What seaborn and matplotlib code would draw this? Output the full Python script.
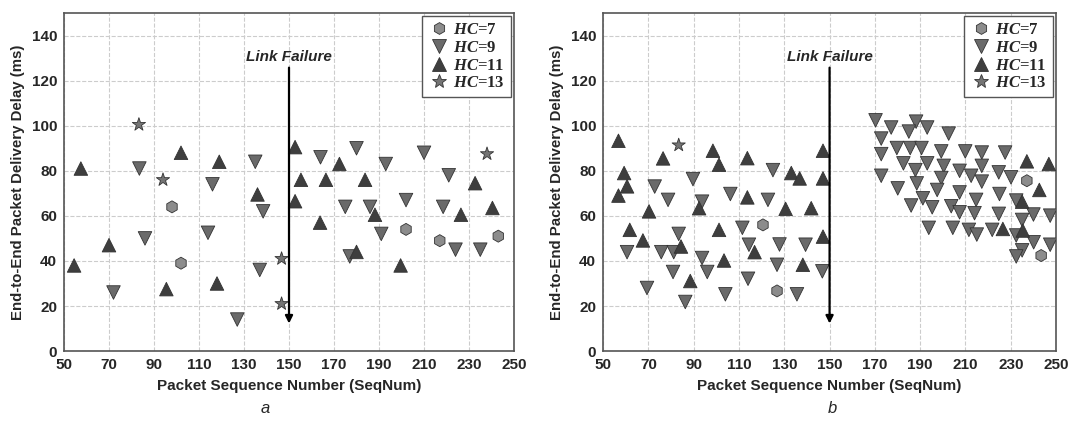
import numpy as np
import pandas as pd
import matplotlib.pyplot as plt
import seaborn as sns
from matplotlib.lines import Line2D

sns.set_theme(style="whitegrid")
plt.rcParams["font.family"] = ["Liberation Sans", "DejaVu Sans"]
plt.rcParams["mathtext.fontset"] = "custom"
plt.rcParams["mathtext.rm"] = "Liberation Serif:bold"
plt.rcParams["mathtext.it"] = "Liberation Serif:italic:bold"

# ---- panel a ----
hc7_a_seq = [98, 102, 202, 217, 243]
hc7_a_delay = [64, 39, 54, 49, 51]
hc9_a_seq = [72, 83.5, 86, 114, 116, 127, 135, 138.5, 137, 164, 180, 193, 175, 186,
             191, 177, 202, 210, 221, 218.5, 224, 235]
hc9_a_delay = [26, 81, 50, 52.5, 74, 14, 84, 62, 36, 86, 90, 83, 64, 64,
               52, 42, 67, 88, 78, 64, 45, 45]
hc11_a_seq = [54.5, 57.5, 70, 95.5, 102, 119, 118, 136, 152.7, 152.7, 155.3, 163.8,
              166.4, 172.4, 183.8, 180, 188.2, 199.6, 232.7, 226.4, 240.4]
hc11_a_delay = [38, 81, 47, 27.5, 88, 84, 30, 69.5, 90.5, 66.5, 76, 57,
                76, 83, 76, 44, 60.5, 38, 74.5, 60.5, 63.5]
hc13_a_seq = [83.3, 94, 146.7, 146.7, 238]
hc13_a_delay = [100.5, 76, 41, 21, 87.5]

# ---- panel b ----
hc7_b_seq = [120.6, 126.8, 237.1, 243.4]
hc7_b_delay = [56, 26.7, 75.6, 42.4]
hc9_b_seq = [60.6, 69.4, 72.8, 78.7, 75.7, 81.2, 80.9, 83.4, 86.3, 89.7, 93.7, 93.7,
             96, 104, 106.2, 111.5, 114.4, 114, 125, 122.8, 127.9, 126.8, 135.6, 139.4,
             146.8,
             170.3, 177.2, 188.2, 193.1, 185, 202.6, 172.8, 179.7, 185.6, 190.6, 172.8,
             199.3, 209.9, 217.2, 227.5, 182.6, 193.1, 200.4, 217.2, 187.9, 207.4,
             172.8, 212.5, 224.7, 230.1, 199.3, 217.2, 188.5, 180.1, 197.5, 207.4,
             225, 191.2, 214.7, 232.4, 186, 195.3, 203.7, 207.4, 214, 224.7, 240,
             247.4, 235, 193.8, 204.4, 211.5, 215, 221.8, 232.4, 240.1, 247.4, 235,
             232.4]
hc9_b_delay = [43.9, 28, 73, 67.1, 43.9, 43.9, 35.1, 52, 21.8, 76.3, 66.3, 41.3,
               35.1, 25.2, 69.7, 54.7, 47.2, 32.1, 80.3, 67.1, 47.3, 38.3, 25.2, 47.2,
               35.4,
               102.4, 99.2, 101.8, 99.2, 97.4, 96.5, 94.3, 90.1, 90.1, 90.1, 87.4,
               88.6, 88.6, 88.1, 88.1, 83.3, 83.3, 82.2, 82.2, 80.3, 80,
               77.8, 77.8, 79.3, 77.1, 76.8, 75.2, 74.4, 72.2, 71.5, 70.4,
               69.7, 67.8, 67.1, 66.8, 64.6, 63.8, 64.3, 61.6, 61.2, 60.9, 60.6,
               60.1, 58.2, 54.7, 54.7, 53.8, 51.7, 53.8, 51.3, 48.3, 47.2, 44.7,
               42]
hc11_b_seq = [56.8, 59.3, 60.6, 56.8, 61.8, 67.6, 70.3, 76.5, 84.4, 88.5, 92.4, 98.5,
              101.2, 101.2, 103.4, 113.7, 113.7, 116.9, 130.6, 133.1, 136.8, 138.2,
              141.9, 147.1, 147.1, 147.1, 237.1, 246.8, 242.6, 235, 226.5, 235.3]
hc11_b_delay = [93.3, 79, 73.1, 69, 53.8, 49.1, 62, 85.5, 46.4, 31.1, 63.4, 88.9,
                82.7, 53.8, 40.2, 85.6, 68.2, 43.9, 63.1, 79, 76.6, 38.3,
                63.4, 88.9, 76.6, 50.8, 84.2, 83, 71.5, 66.3, 54.2, 53.5]
hc13_b_seq = [83.4]
hc13_b_delay = [91.4]

hc_levels = ["7", "9", "11", "13"]
x_ticks = list(range(50, 251, 20))
y_ticks = list(range(0, 141, 20))

markers = {"7": "h", "9": "v", "11": "^", "13": "*"}
sizes = {"7": 75, "9": 95, "11": 95, "13": 100}
palette = {"7": "#8c8c8c", "9": "#6a6a6a", "11": "#3e3e3e", "13": "#747474"}


def make_frame(groups):
    rows = []
    for hc, seq, delay in groups:
        for s, d in zip(seq, delay):
            rows.append({"SeqNum": s, "Delay": d, "HC": hc})
    return pd.DataFrame(rows)


df_a = make_frame([("7", hc7_a_seq, hc7_a_delay), ("9", hc9_a_seq, hc9_a_delay),
                   ("11", hc11_a_seq, hc11_a_delay), ("13", hc13_a_seq, hc13_a_delay)])
df_b = make_frame([("7", hc7_b_seq, hc7_b_delay), ("9", hc9_b_seq, hc9_b_delay),
                   ("11", hc11_b_seq, hc11_b_delay), ("13", hc13_b_seq, hc13_b_delay)])

fig = plt.figure(figsize=(10.7, 4.34), dpi=100)
ax_a = fig.add_axes([0.0598, 0.191, 0.4206, 0.779])
ax_b = fig.add_axes([0.5636, 0.191, 0.4234, 0.779])

for ax, df, tag in [(ax_a, df_a, "a"), (ax_b, df_b, "b")]:
    sns.scatterplot(data=df, x="SeqNum", y="Delay", hue="HC", style="HC", size="HC",
                    hue_order=hc_levels, style_order=hc_levels, size_order=hc_levels,
                    palette=palette, markers=markers, sizes=sizes,
                    edgecolor="#333333", linewidth=0.6, legend=False, ax=ax, zorder=3)
    ax.set_xlim(50, 250)
    ax.set_ylim(0, 150)
    ax.set_xticks(x_ticks)
    ax.set_yticks(y_ticks)
    ax.tick_params(axis="both", labelsize=11, length=3, width=0.8, color="#555555",
                   pad=2, direction="out")
    for lab in ax.get_xticklabels() + ax.get_yticklabels():
        lab.set_fontweight("bold")
    ax.grid(True, linestyle="--", color="#cccccc", linewidth=0.8)
    ax.set_facecolor("white")
    for sp in ax.spines.values():
        sp.set_color("#555555")
        sp.set_linewidth(1.2)
    ax.set_xlabel("Packet Sequence Number (SeqNum)", fontsize=11, fontweight="bold",
                  labelpad=5)
    ax.set_ylabel("End-to-End Packet Delivery Delay (ms)", fontsize=10.8,
                  fontweight="bold", labelpad=5)

    ax.annotate("", xy=(150, 11), xytext=(150, 127),
                arrowprops=dict(arrowstyle="-|>", color="black", lw=1.6,
                                mutation_scale=11), zorder=4)
    ax.text(150, 130.5, "Link Failure", ha="center", va="center", fontsize=11,
            fontweight="bold", fontstyle="italic", zorder=4)

    handles = [Line2D([], [], linestyle="none", marker=markers[h],
                      markersize=(8.5 if h == "7" else 10.5), markerfacecolor=palette[h],
                      markeredgecolor="#333333", markeredgewidth=0.6)
               for h in hc_levels]
    labels = [r"$\mathit{HC}$=" + h for h in hc_levels]
    leg = ax.legend(handles, labels, loc="upper right", frameon=True,
                    prop={"family": "Liberation Serif", "weight": "bold", "size": 12},
                    fancybox=False, edgecolor="#555555", framealpha=1,
                    borderaxespad=0.2, handletextpad=0.2, labelspacing=0.1,
                    borderpad=0.35, handlelength=1.3)
    leg.get_frame().set_linewidth(1.0)

fig.text(0.2477, 0.058, "a", fontsize=12, fontstyle="italic", ha="center", va="center")
fig.text(0.7776, 0.058, "b", fontsize=12, fontstyle="italic", ha="center", va="center")

fig.savefig("out.png", dpi=100)
